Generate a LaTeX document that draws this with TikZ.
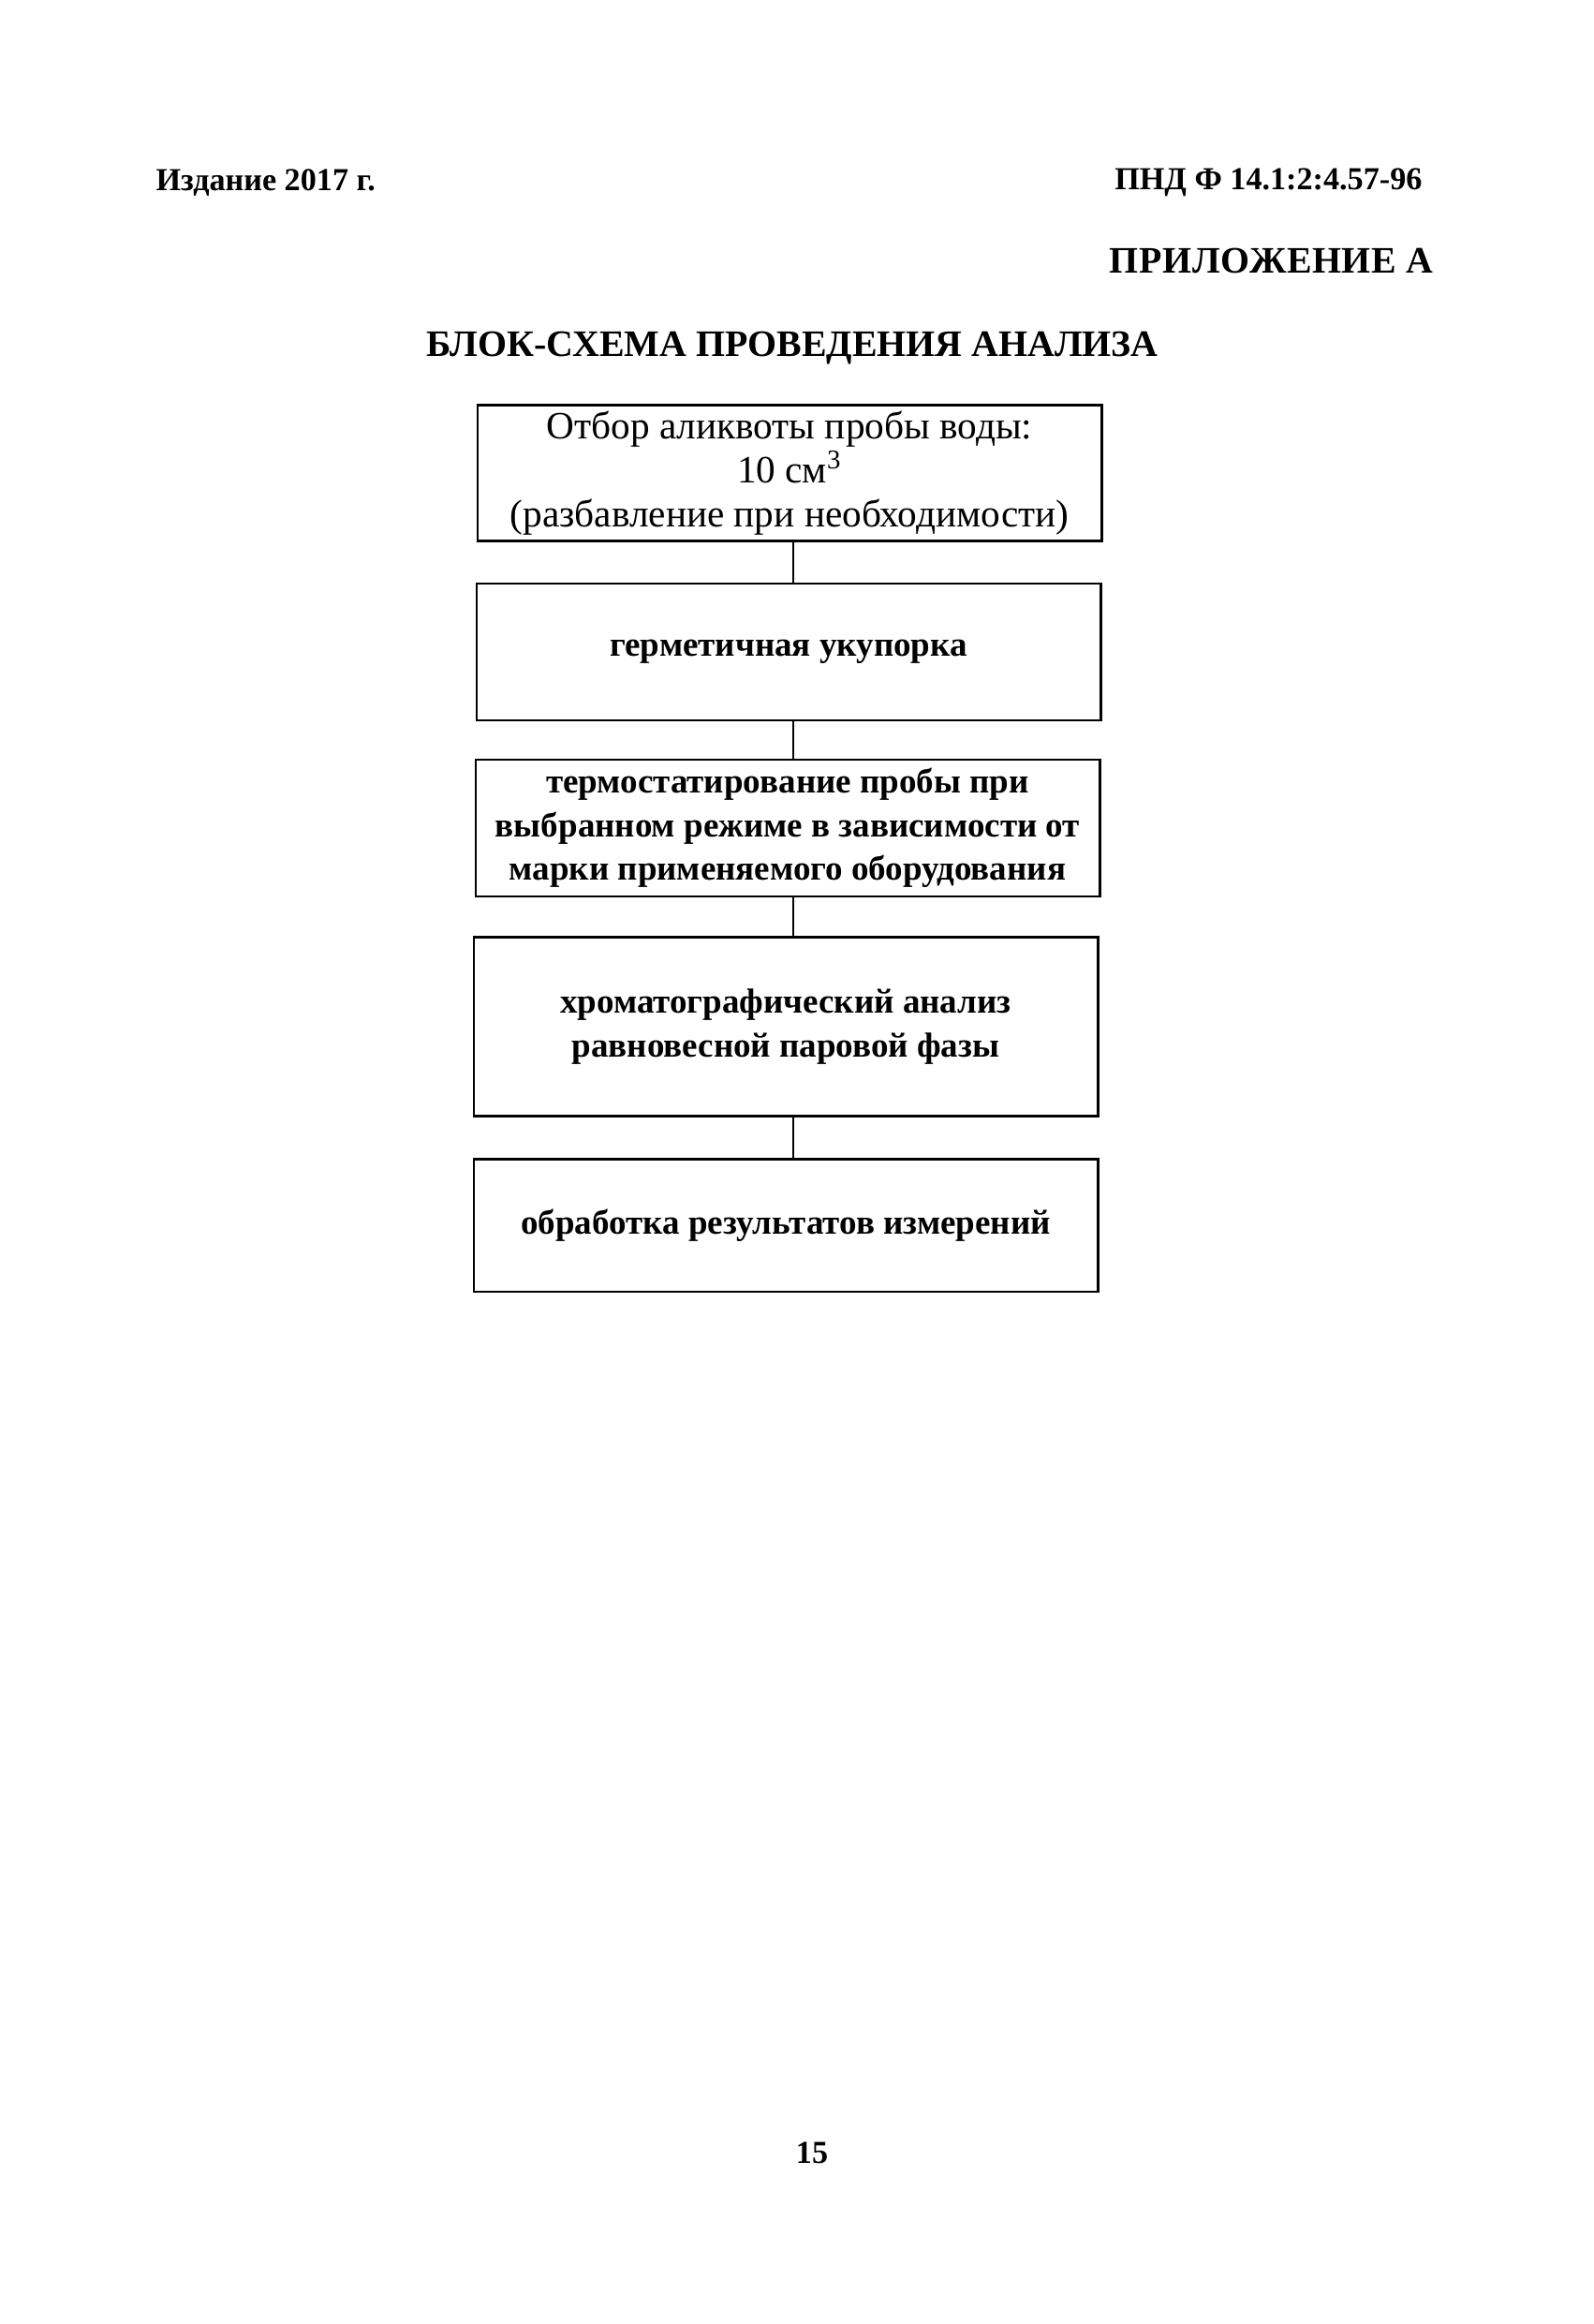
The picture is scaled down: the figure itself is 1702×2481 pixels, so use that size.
\documentclass[tikz,border=0pt]{standalone}
\usepackage{fontspec}
\setmainfont{Liberation Serif}
\begin{document}
\begin{tikzpicture}[x=0.1234mm, y=-0.1234mm,
    blok/.style={draw, line width=1pt, minimum width=8.22cm, align=center, inner sep=2pt,
      font=\fontsize{14.5}{16.6}\selectfont},
    blokb/.style={blok, font=\fontsize{13}{16.4}\selectfont\bfseries},
    shapka/.style={inner sep=0pt, font=\fontsize{12}{14}\selectfont\bfseries}]
  \useasboundingbox (0,0) rectangle (1702,2481);

  % header
  \node[shapka, anchor=west] (izd) at (166,195) {Издание 2017 г.};
  \node[shapka, anchor=east] (pnd) at (1519,195) {ПНД Ф 14.1:2:4.57-96};
  \node[shapka, anchor=east, font=\fontsize{14}{16}\selectfont\bfseries\addfontfeatures{LetterSpace=1.5}] (pril) at (1531,278) {ПРИЛОЖЕНИЕ А};
  \node[shapka, font=\fontsize{14}{16}\selectfont\bfseries] (title) at (846,372) {БЛОК-СХЕМА ПРОВЕДЕНИЯ АНАЛИЗА};

  % blocks
  \node[blok, minimum height=1.78cm] (b1) at (843,505) {Отбор аликвоты пробы воды:\\10 см\textsuperscript{3}\\(разбавление при необходимости)};
  \node[blokb, minimum height=1.80cm] (b2) at (842,696) {герметичная укупорка};
  \node[blokb, minimum height=1.80cm] (b3) at (841,884) {термостатирование пробы при\\выбранном режиме в зависимости от\\марки применяемого оборудования};
  \node[blokb, minimum height=2.36cm] (b4) at (839,1096) {хроматографический анализ\\равновесной паровой фазы};
  \node[blokb, minimum height=1.75cm] (b5) at (839,1308) {обработка результатов измерений};

  \coordinate (os) at (847,0);
  \foreach \a/\b in {b1/b2, b2/b3, b3/b4, b4/b5}
    \draw[line width=0.7pt] (\a.south -| os) -- (\b.north -| os);

  \node[shapka] (page) at (867,2298) {15};
\end{tikzpicture}
\end{document}
